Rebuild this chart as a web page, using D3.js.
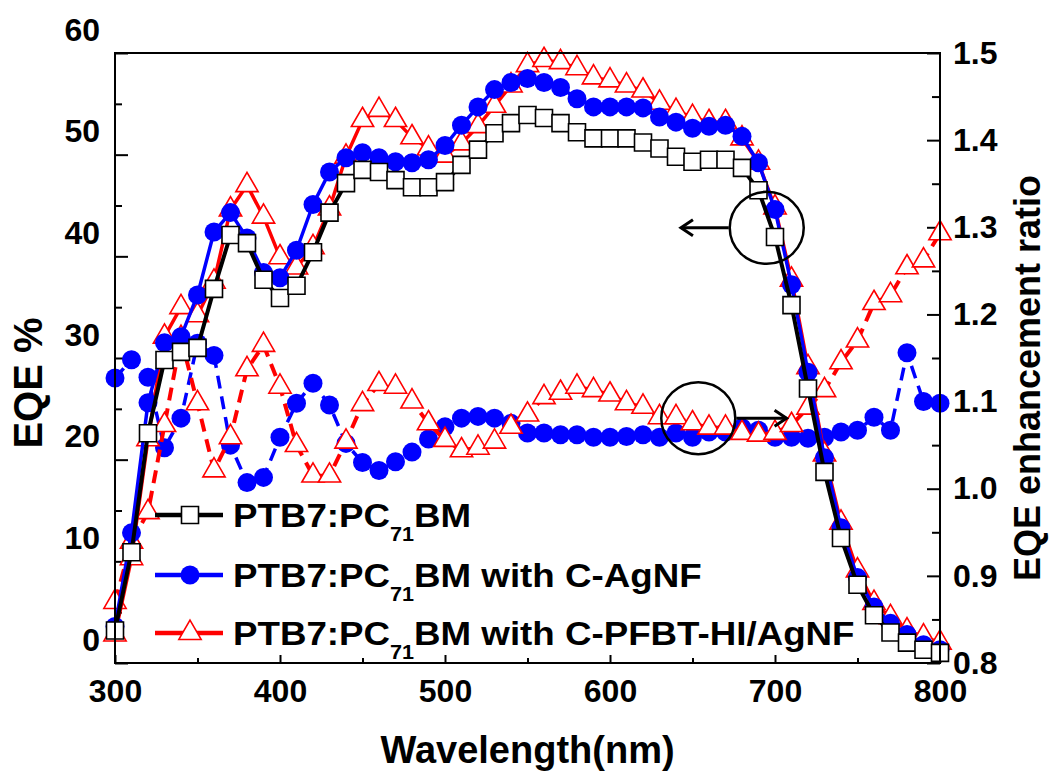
<!DOCTYPE html>
<html>
<head>
<meta charset="utf-8">
<script src="https://cdn.jsdelivr.net/npm/d3@7"></script>
<style>
  body { margin: 0; background: #fff; }
  svg text { font-family: "Liberation Sans", Arial, sans-serif; font-weight: bold; fill: #000; }
</style>
</head>
<body>
<svg id="chart" width="1051" height="778"></svg>
<script>
// Wavelength grid (nm)
const wavelength = [300,310,320,330,340,350,360,370,380,390,
                    400,410,420,430,440,450,460,470,480,490,
                    500,510,520,530,540,550,560,570,580,590,
                    600,610,620,630,640,650,660,670,680,690,
                    700,710,720,730,740,750,760,770,780,790,800];

// EQE (%) of the reference device PTB7:PC71BM
const eqeRef = [3.2,10.9,22.6,29.8,30.6,31.0,36.8,42.1,41.3,37.7,
                35.9,37.1,40.4,44.3,47.2,48.5,48.3,47.5,46.8,46.8,
                47.3,49.0,50.5,52.1,53.1,53.9,53.6,53.1,52.2,51.6,
                51.6,51.6,51.2,50.6,49.8,49.3,49.5,49.5,48.7,46.5,
                41.9,35.2,27.0,18.8,12.3,7.7,4.7,3.0,2.0,1.3,1.0];

// EQE (%) with C-AgNF
const eqeAgNF = [3.6,12.8,25.6,31.5,32.1,36.2,42.4,44.3,41.8,38.4,
                 37.9,40.6,45.1,48.3,49.7,50.2,49.7,49.3,49.2,49.5,
                 50.9,52.9,54.7,56.4,57.1,57.5,57.1,56.6,55.5,54.7,
                 54.7,54.7,54.6,53.7,53.2,52.6,52.8,52.9,51.8,49.2,
                 44.6,37.2,28.6,20.2,13.3,8.4,5.5,3.9,2.8,1.8,1.3];

// EQE (%) with C-PFBT-HI/AgNF
const eqePfbt = [2.8,10.3,22.0,32.1,35.0,34.2,37.5,44.6,47.0,43.9,
                 39.9,38.9,40.9,44.7,49.8,53.4,54.4,53.4,51.7,50.6,
                 49.9,51.1,52.8,54.8,56.8,58.8,59.3,59.1,58.5,57.6,
                 57.3,56.8,56.3,55.1,54.3,53.7,53.2,53.2,51.6,49.2,
                 44.8,37.7,29.1,20.5,13.8,9.1,5.9,4.5,3.2,2.6,2.0];

// EQE enhancement ratio, C-AgNF / reference
const ratioAgNF = [1.127,1.148,1.128,1.047,1.081,1.167,1.153,1.050,1.007,1.013,
                   1.059,1.098,1.121,1.096,1.052,1.030,1.021,1.031,1.042,1.057,
                   1.071,1.081,1.083,1.081,1.075,1.064,1.064,1.062,1.062,1.059,
                   1.059,1.060,1.062,1.059,1.064,1.059,1.065,1.065,1.070,1.067,
                   1.059,1.059,1.058,1.059,1.065,1.067,1.082,1.067,1.156,1.100,1.098];

// EQE enhancement ratio, C-PFBT-HI/AgNF / reference
const ratioPfbt = [0.870,0.939,0.973,1.073,1.173,1.098,1.021,1.059,1.137,1.165,
                   1.117,1.050,1.015,1.015,1.054,1.097,1.120,1.117,1.100,1.075,
                   1.056,1.044,1.047,1.054,1.071,1.085,1.105,1.110,1.117,1.113,
                   1.108,1.098,1.094,1.082,1.082,1.075,1.070,1.070,1.064,1.062,
                   1.064,1.073,1.093,1.113,1.145,1.170,1.213,1.222,1.254,1.262,1.293];

// Axis ticks
const xTicks = [300,400,500,600,700,800];
const xMinor = [350,450,550,650,750];
const eqeTicks = [0,10,20,30,40,50,60];
const eqeMinor = [5,15,25,35,45,55];
const ratioTicks = [0.8,0.9,1.0,1.1,1.2,1.3,1.4,1.5];
const ratioMinor = [0.85,0.95,1.05,1.15,1.25,1.35,1.45];

const legendLabels = ["BM", "BM with C-AgNF", "BM with C-PFBT-HI/AgNF"];

const svg = d3.select("#chart");
const L = 115, R = 940, T = 53, B = 663;

const x = d3.scaleLinear().domain([300, 800]).range([L, R]);
const yEqe = d3.scaleLinear().domain([0, 60]).range([B, T]);
const yRatio = d3.scaleLinear().domain([0.8, 1.5]).range([B, T]);

const BLUE = "#0000ff", RED = "#ff0000";

// ---- axes ----
function styleAxis(g) {
  g.select(".domain").remove();
  g.selectAll("line").attr("stroke", "#000").attr("stroke-width", 2);
  g.selectAll("text").style("font-size", "32px").style("font-family", null);
}

svg.append("g").attr("transform", `translate(0,${B})`)
  .call(d3.axisBottom(x).tickValues(xTicks).tickSizeInner(-8).tickSizeOuter(0).tickPadding(16).tickFormat(d3.format("d")))
  .call(styleAxis);
svg.append("g").attr("transform", `translate(0,${B})`)
  .call(d3.axisBottom(x).tickValues(xMinor).tickSizeInner(-5).tickSizeOuter(0).tickFormat(""))
  .call(styleAxis);

const leftAxis = svg.append("g").attr("transform", `translate(${L},0)`)
  .call(d3.axisLeft(yEqe).tickValues(eqeTicks).tickSizeInner(-13).tickSizeOuter(0).tickPadding(15).tickFormat(d3.format("d")))
  .call(styleAxis);
// left-axis numbers sit slightly above their tick marks
leftAxis.selectAll("text").attr("y", -23);
svg.append("g").attr("transform", `translate(${L},0)`)
  .call(d3.axisLeft(yEqe).tickValues(eqeMinor).tickSizeInner(-7).tickSizeOuter(0).tickFormat(""))
  .call(styleAxis);

svg.append("g").attr("transform", `translate(${R},0)`)
  .call(d3.axisRight(yRatio).tickValues(ratioTicks).tickSizeInner(-13).tickSizeOuter(0).tickPadding(13).tickFormat(d3.format(".1f")))
  .call(styleAxis);
svg.append("g").attr("transform", `translate(${R},0)`)
  .call(d3.axisRight(yRatio).tickValues(ratioMinor).tickSizeInner(-8).tickSizeOuter(0).tickFormat(""))
  .call(styleAxis);

// axis titles
svg.append("text").attr("x", (L + R) / 2).attr("y", 763).attr("text-anchor", "middle")
  .style("font-size", "38px").text("Wavelength(nm)");
svg.append("text").attr("transform", "translate(42,383) rotate(-90)").attr("text-anchor", "middle")
  .style("font-size", "40px").text("EQE %");
svg.append("text").attr("transform", "translate(1040,378) rotate(-90)").attr("text-anchor", "middle")
  .style("font-size", "36px").text("EQE enhancement ratio");

// ---- series ----
const symSquare = d3.symbol().type(d3.symbolSquare).size(17 * 17);
const symCircle = d3.symbol().type(d3.symbolCircle).size(Math.PI * 9.5 * 9.5);
const symTriangle = d3.symbol().type(d3.symbolTriangle).size(215);

function drawSeries(values, yScale, opts) {
  const pts = wavelength.map((w, i) => ({ w, v: values[i] }));
  const line = d3.line().x(d => x(d.w)).y(d => yScale(d.v));
  const g = svg.append("g");
  g.append("path").datum(pts).attr("d", line)
    .attr("fill", "none").attr("stroke", opts.color).attr("stroke-width", opts.width)
    .attr("stroke-dasharray", opts.dash || null).attr("stroke-linejoin", "round");
  g.selectAll("path.m").data(pts).join("path").attr("class", "m")
    .attr("transform", d => `translate(${x(d.w)},${yScale(d.v)})`)
    .attr("d", opts.symbol)
    .attr("fill", opts.fill).attr("stroke", opts.stroke).attr("stroke-width", opts.sw);
}

drawSeries(ratioAgNF, yRatio, { color: BLUE, width: 3.5, dash: "13,8", symbol: symCircle, fill: BLUE, stroke: "none", sw: 0 });
drawSeries(ratioPfbt, yRatio, { color: RED, width: 4, dash: "13,8", symbol: symTriangle, fill: "#fff", stroke: RED, sw: 1.6 });
drawSeries(eqePfbt, yEqe, { color: RED, width: 3.5, symbol: symTriangle, fill: "#fff", stroke: RED, sw: 1.6 });
drawSeries(eqeAgNF, yEqe, { color: BLUE, width: 3.5, symbol: symCircle, fill: BLUE, stroke: "none", sw: 0 });
drawSeries(eqeRef, yEqe, { color: "#000", width: 4, symbol: symSquare, fill: "#fff", stroke: "#000", sw: 1.6 });

// frame drawn over the data so marks near the top edge sit under it
svg.append("rect").attr("x", L).attr("y", T).attr("width", R - L).attr("height", B - T)
  .attr("fill", "none").attr("stroke", "#000").attr("stroke-width", 2);

// ---- annotations: circled regions with arrows pointing to their axis ----
function annotate(cx, cy, r, x0, x1) {
  svg.append("ellipse").attr("cx", cx).attr("cy", cy).attr("rx", r).attr("ry", r - 1)
    .attr("fill", "none").attr("stroke", "#000").attr("stroke-width", 2.5);
  const dir = Math.sign(x1 - x0);
  svg.append("line").attr("x1", x0).attr("y1", cy).attr("x2", x1).attr("y2", cy)
    .attr("stroke", "#000").attr("stroke-width", 3);
  svg.append("path")
    .attr("d", `M${x1 - dir * 12},${cy - 8}L${x1},${cy}L${x1 - dir * 12},${cy + 8}`)
    .attr("fill", "none").attr("stroke", "#000").attr("stroke-width", 3);
}
annotate(x(695), yEqe(42.8), 37, x(695) - 38, x(643));
annotate(x(653.5), yRatio(1.081), 37, x(653.5) + 38, x(707));

// ---- legend ----
const legendRows = [
  { y: 515, color: "#000", symbol: symSquare, fill: "#fff", stroke: "#000" },
  { y: 575, color: BLUE, symbol: symCircle, fill: BLUE, stroke: "none" },
  { y: 633, color: RED, symbol: symTriangle, fill: "#fff", stroke: RED }
];
legendRows.forEach((row, i) => {
  const g = svg.append("g");
  g.append("line").attr("x1", 155).attr("x2", 223).attr("y1", row.y).attr("y2", row.y)
    .attr("stroke", row.color).attr("stroke-width", 4.5);
  g.append("path").attr("transform", `translate(190,${row.y})`).attr("d", row.symbol)
    .attr("fill", row.fill).attr("stroke", row.stroke).attr("stroke-width", 1.6);
  // legend labels are set slightly wide
  const t = g.append("text").attr("transform", `translate(233,${row.y + 12}) scale(1.08,1)`)
    .style("font-size", "34px");
  t.append("tspan").text("PTB7:PC");
  t.append("tspan").attr("dy", 14).style("font-size", "20px").text("71");
  t.append("tspan").attr("dy", -14).text(legendLabels[i]);
});
</script>
</body>
</html>
